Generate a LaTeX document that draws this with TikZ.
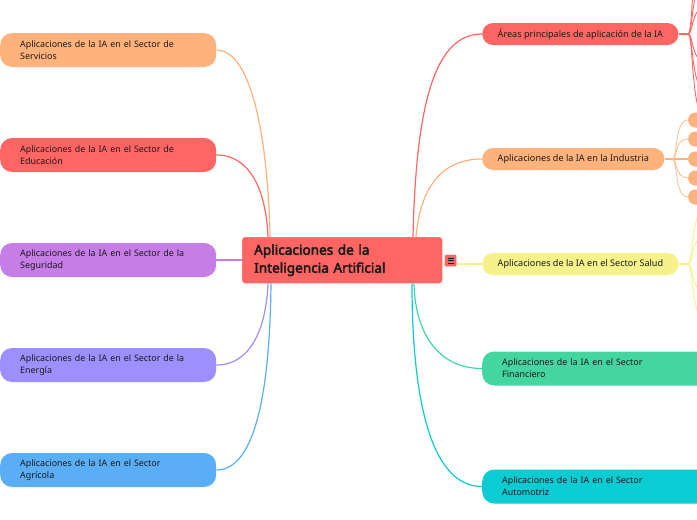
\documentclass[tikz,border=0pt]{standalone}
\usepackage{fontspec}
\setmainfont{Noto Sans}[AutoFakeBold=3]
\usetikzlibrary{calc}
\definecolor{cred}{HTML}{FF6663}
\definecolor{corange}{HTML}{FFB27B}
\definecolor{cpurple}{HTML}{C77DE8}
\definecolor{clav}{HTML}{9D8FFF}
\definecolor{cblue}{HTML}{5AAEF6}
\definecolor{cyellow}{HTML}{F5F18B}
\definecolor{cgreen}{HTML}{43D6A2}
\definecolor{ccyan}{HTML}{0BCBD3}
\definecolor{ctext}{HTML}{1A1A1A}
\tikzset{
  leftbox/.style={anchor=west, rounded corners=12pt, minimum width=216pt, minimum height=34pt,
    text width=176pt, inner xsep=20pt, inner ysep=0pt, align=left, text=ctext,
    font=\fontsize{8.9}{12}\selectfont},
  pill/.style={anchor=west, rounded corners=11pt, minimum height=22pt, inner ysep=0pt,
    inner xsep=15.5pt, text=ctext, font=\fontsize{9.1}{12}\selectfont},
  widebox/.style={anchor=west, rounded corners=12pt, minimum width=240pt, minimum height=34pt,
    text width=200pt, inner xsep=20pt, inner ysep=0pt, align=left, text=ctext,
    font=\fontsize{8.9}{12}\selectfont},
  link/.style={line width=1.2pt},
  sublink/.style={line width=0.9pt},
}
\begin{document}
\begin{tikzpicture}[x=1pt,y=-1pt]
\useasboundingbox (0,0) rectangle (697,520);
\clip (0,0) rectangle (697,520);
% center
\node[anchor=north west, fill=cred, draw=cred!70!white, rounded corners=3pt,
  minimum width=200pt, minimum height=46pt, text width=176pt, inner xsep=12pt,
  align=left, text=ctext, font=\bfseries\fontsize{13.6}{18}\selectfont]
  (c) at (242,237) {Aplicaciones de la\\Inteligencia Artificial};
% coordinates
\coordinate (ct1) at ($(c.north west)+(28,0)$);
\coordinate (ct2) at ($(c.north west)+(26,0)$);
\coordinate (cb1) at ($(c.south west)+(26,0)$);
\coordinate (cb2) at ($(c.south west)+(29,0)$);
\coordinate (rt1) at ($(c.north west)+(171,0)$);
\coordinate (rt2) at ($(c.north west)+(174,0)$);
\coordinate (rb1) at ($(c.south west)+(172,0)$);
\coordinate (rb2) at ($(c.south west)+(170,0)$);
% left nodes
\node[leftbox, fill=corange] (serv) at (0,50) {Aplicaciones de la IA en el Sector de\\Servicios};
\node[leftbox, fill=cred] (edu) at (0,155) {Aplicaciones de la IA en el Sector de\\Educación};
\node[leftbox, fill=cpurple] (seg) at (0,260) {Aplicaciones de la IA en el Sector de la\\Seguridad};
\node[leftbox, fill=clav] (ene) at (0,365) {Aplicaciones de la IA en el Sector de la\\Energía};
\node[leftbox, fill=cblue] (agr) at (0,470) {Aplicaciones de la IA en el Sector\\Agrícola};
% right nodes
\node[pill, fill=cred] (are) at (482,34) {Áreas principales de aplicación de la IA};
\node[pill, fill=corange] (ind) at (482,159) {Aplicaciones de la IA en la Industria};
\node[pill, fill=cyellow] (sal) at (482,264) {Aplicaciones de la IA en el Sector Salud};
\node[widebox, fill=cgreen] (fin) at (482,368.5) {Aplicaciones de la IA en el Sector\\Financiero};
\node[widebox, fill=ccyan] (aut) at (482,486.5) {Aplicaciones de la IA en el Sector\\Automotriz};
% sub-branch stubs
\coordinate (aj) at (688,34);
\coordinate (ij) at (672,159);
\coordinate (sj) at (688,264);
\foreach \yy/\nm in {120/i1,139/i2,159/i3,178/i4,197/i5}{
  \node[anchor=west, fill=corange, rounded corners=7pt, minimum width=60pt, minimum height=15pt, inner sep=0pt] (\nm) at (688,\yy) {};
}
% connectors
\draw[link, corange] (serv.east) .. controls (252,50) and (268,140) .. (ct1);
\draw[link, cred] (edu.east) .. controls (250,155) and (266,190) .. (ct2);
\draw[link, cpurple] (seg.east) -- (seg.east -| c.west);
\draw[link, clav] (ene.east) .. controls (250,365) and (266,330) .. (cb1);
\draw[link, cblue] (agr.east) .. controls (258,470) and (270,380) .. (cb2);
\draw[link, cred] (are.west) .. controls (436,34) and (416,100) .. (rt1);
\draw[link, corange] (ind.west) .. controls (440,159) and (420,190) .. (rt2);
\draw[link, cyellow] (c.east |- sal.west) -- (sal.west);
\draw[link, cgreen] (fin.west) .. controls (436,368.5) and (415,330) .. (rb1);
\draw[link, ccyan] (aut.west) .. controls (428,486.5) and (412,390) .. (rb2);
% icon
\node[anchor=north west, fill=cred, draw=white, line width=0.4pt, rounded corners=1pt,
  minimum width=12pt, minimum height=12pt, inner sep=0pt] (ic) at (444.5,254.5) {};
\foreach \dy in {-2.6,0,2.6}{
  \draw[line width=0.9pt, ctext] ($(ic.center)+(-3,\dy)$) -- ($(ic.center)+(3,\dy)$);
}
% sub-branches of Areas
\draw[link, cred] (are.east) -- (aj);
\foreach \ty in {-70,-25,5,64,95,125}{
  \draw[sublink, cred] (aj) .. controls (694,34) and (690,\ty) .. (710,\ty);
}
% sub-branches of Industria
\draw[link, corange] (ind.east) -- (i3.west);
\foreach \nm in {i1,i2,i4,i5}{
  \draw[sublink, corange!80!white] (ij) .. controls (678,159) and ($(\nm.west)+(-14,0)$) .. (\nm.west);
}
% sub-branches of Salud
\draw[link, cyellow] (sal.east) -- (sj);
\foreach \ty in {200,232,296,328}{
  \draw[sublink, cyellow] (sj) .. controls (694,264) and (690,\ty) .. (712,\ty);
}
\end{tikzpicture}
\end{document}
